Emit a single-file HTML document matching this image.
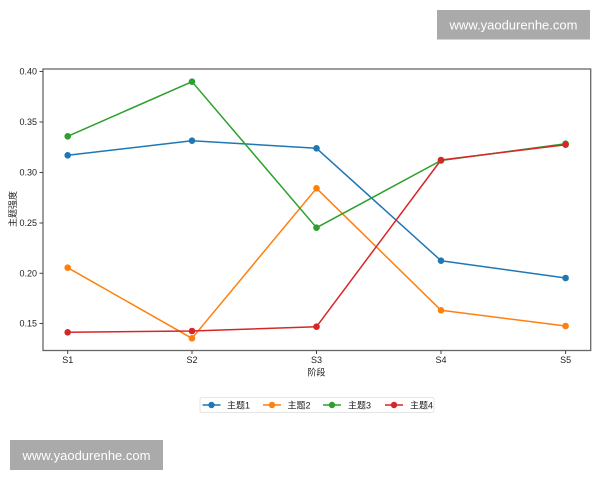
<!DOCTYPE html>
<html><head><meta charset="utf-8"><style>
html,body{margin:0;padding:0;background:#fff;}
svg{display:block;}
text{font-family:"Liberation Sans","Noto Sans CJK SC",sans-serif;}
</style></head><body>
<svg width="600" height="480" viewBox="0 0 600 480" xmlns="http://www.w3.org/2000/svg">
<rect width="600" height="480" fill="#fff"/>
<!-- watermarks -->
<rect x="437" y="10" width="153" height="29.5" fill="#aaaaaa"/>
<text x="513.5" y="29.5" font-size="13" fill="#fff" text-anchor="middle">www.yaodurenhe.com</text>
<rect x="10" y="440" width="153" height="30" fill="#aaaaaa"/>
<text x="86.5" y="460" font-size="13" fill="#fff" text-anchor="middle">www.yaodurenhe.com</text>

<!-- axes frame -->
<rect x="43" y="69" width="547.7" height="281.5" fill="none" stroke="#666" stroke-width="1.3"/>

<!-- y ticks -->
<g stroke="#444" stroke-width="1">
<line x1="39.5" y1="71.5" x2="43" y2="71.5"/>
<line x1="39.5" y1="122" x2="43" y2="122"/>
<line x1="39.5" y1="172.5" x2="43" y2="172.5"/>
<line x1="39.5" y1="223" x2="43" y2="223"/>
<line x1="39.5" y1="273.3" x2="43" y2="273.3"/>
<line x1="39.5" y1="323.5" x2="43" y2="323.5"/>
</g>
<g font-size="9" fill="#222" text-anchor="end">
<text x="37" y="74.5">0.40</text>
<text x="37" y="125">0.35</text>
<text x="37" y="175.5">0.30</text>
<text x="37" y="226">0.25</text>
<text x="37" y="276.3">0.20</text>
<text x="37" y="326.5">0.15</text>
</g>
<!-- x ticks -->
<g stroke="#444" stroke-width="1">
<line x1="67.7" y1="350.5" x2="67.7" y2="354"/>
<line x1="192" y1="350.5" x2="192" y2="354"/>
<line x1="316.5" y1="350.5" x2="316.5" y2="354"/>
<line x1="441" y1="350.5" x2="441" y2="354"/>
<line x1="565.6" y1="350.5" x2="565.6" y2="354"/>
</g>
<g font-size="9" fill="#222" text-anchor="middle">
<text x="67.7" y="363">S1</text>
<text x="192" y="363">S2</text>
<text x="316.5" y="363">S3</text>
<text x="441" y="363">S4</text>
<text x="565.6" y="363">S5</text>
</g>
<text x="316.5" y="375.5" font-size="9" fill="#222" text-anchor="middle">阶段</text>
<text transform="translate(16,209) rotate(-90)" font-size="9" fill="#222" text-anchor="middle">主题强度</text>

<!-- series -->
<g fill="none" stroke-width="1.5" stroke-linejoin="round">
<polyline stroke="#1f77b4" points="67.7,155.3 192,140.7 316.5,148.3 441,260.7 565.6,278"/>
<polyline stroke="#ff7f0e" points="67.7,267.7 192,338.3 316.5,188.3 441,310.3 565.6,326"/>
<polyline stroke="#2ca02c" points="67.7,136.3 192,81.7 316.5,227.7 441,160.5 565.6,143.7"/>
<polyline stroke="#d62728" points="67.7,332.3 192,331 316.5,326.7 441,160 565.6,144.7"/>
</g>
<g fill="#1f77b4">
<circle cx="67.7" cy="155.3" r="3.3"/><circle cx="192" cy="140.7" r="3.3"/><circle cx="316.5" cy="148.3" r="3.3"/><circle cx="441" cy="260.7" r="3.3"/><circle cx="565.6" cy="278" r="3.3"/>
</g>
<g fill="#ff7f0e">
<circle cx="67.7" cy="267.7" r="3.3"/><circle cx="192" cy="338.3" r="3.3"/><circle cx="316.5" cy="188.3" r="3.3"/><circle cx="441" cy="310.3" r="3.3"/><circle cx="565.6" cy="326" r="3.3"/>
</g>
<g fill="#2ca02c">
<circle cx="67.7" cy="136.3" r="3.3"/><circle cx="192" cy="81.7" r="3.3"/><circle cx="316.5" cy="227.7" r="3.3"/><circle cx="441" cy="160.5" r="3.3"/><circle cx="565.6" cy="143.7" r="3.3"/>
</g>
<g fill="#d62728">
<circle cx="67.7" cy="332.3" r="3.3"/><circle cx="192" cy="331" r="3.3"/><circle cx="316.5" cy="326.7" r="3.3"/><circle cx="441" cy="160" r="3.3"/><circle cx="565.6" cy="144.7" r="3.3"/>
</g>

<!-- legend -->
<rect x="200" y="397.5" width="234" height="15" rx="2" fill="#fff" stroke="#ddd" stroke-width="0.8"/>
<g stroke-width="1.5">
<line x1="202.5" y1="405" x2="220.5" y2="405" stroke="#1f77b4"/>
<line x1="263" y1="405" x2="281" y2="405" stroke="#ff7f0e"/>
<line x1="323" y1="405" x2="341" y2="405" stroke="#2ca02c"/>
<line x1="385" y1="405" x2="403" y2="405" stroke="#d62728"/>
</g>
<circle cx="211.5" cy="405" r="3.2" fill="#1f77b4"/>
<circle cx="272" cy="405" r="3.2" fill="#ff7f0e"/>
<circle cx="332" cy="405" r="3.2" fill="#2ca02c"/>
<circle cx="394" cy="405" r="3.2" fill="#d62728"/>
<g font-size="9" fill="#222">
<text x="227" y="408.3">主题1</text>
<text x="287.5" y="408.3">主题2</text>
<text x="348" y="408.3">主题3</text>
<text x="410" y="408.3">主题4</text>
</g>
</svg>
</body></html>
